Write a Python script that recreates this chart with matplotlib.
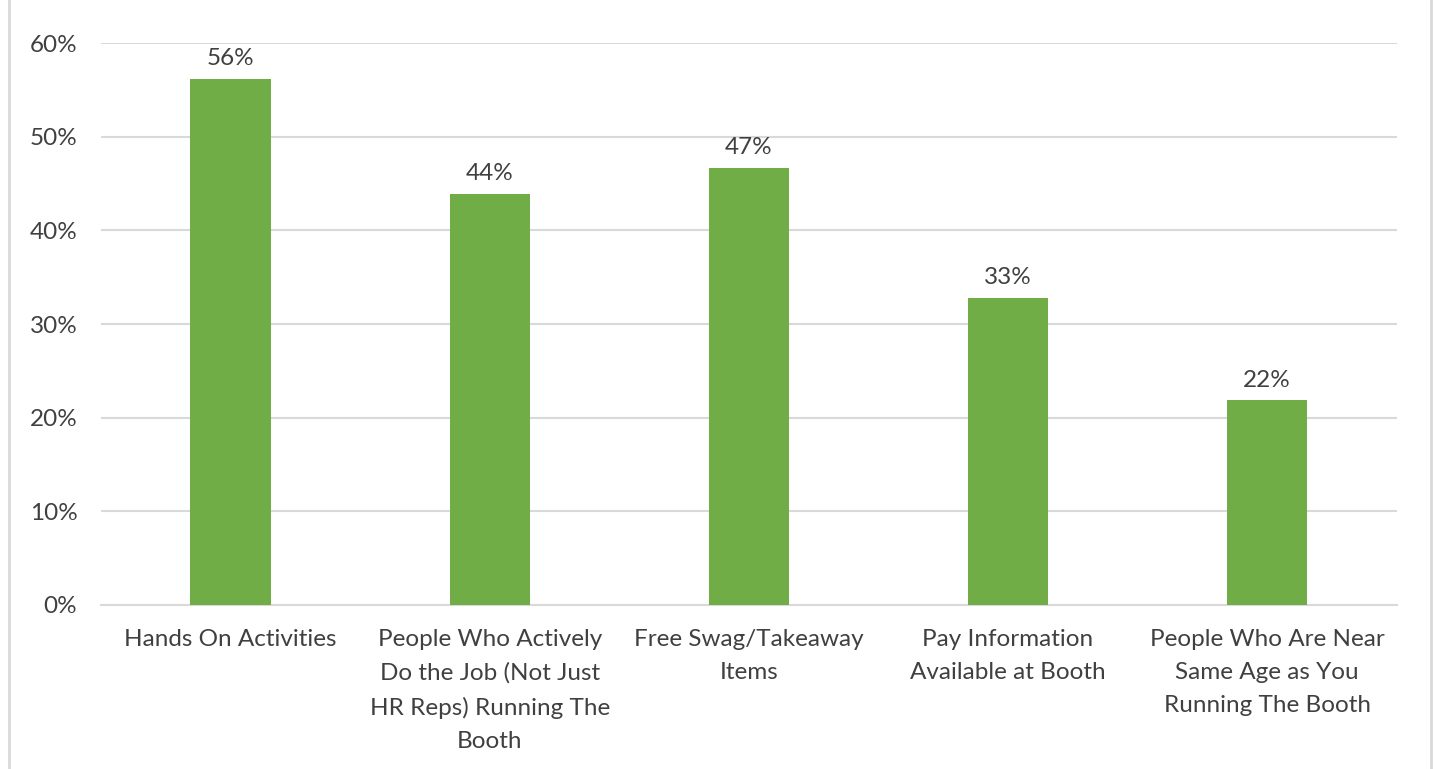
import matplotlib
matplotlib.use("Agg")
import matplotlib.pyplot as plt
from matplotlib.lines import Line2D

categories = [
    "Hands On Activities",
    "People Who Actively\nDo the Job (Not Just\nHR Reps) Running The\nBooth",
    "Free Swag/Takeaway\nItems",
    "Pay Information\nAvailable at Booth",
    "People Who Are Near\nSame Age as You\nRunning The Booth",
]
values = [56.2, 43.9, 46.7, 32.8, 21.9]
yticks = [0, 10, 20, 30, 40, 50, 60]

plt.rcParams['font.family'] = ['Lato', 'DejaVu Sans']
TXT = '#404040'
FS = 17.5

fig = plt.figure(figsize=(14.34, 7.69), dpi=100)
ax = fig.add_axes([0.0704, 0.2133, 0.9036, 0.7307])

x = range(len(categories))
ax.bar(x, values, width=0.31, color='#70AD47', zorder=3)
for i, v in zip(x, values):
    ax.text(i, v + 1.0, f"{v:.0f}%", ha='center', va='bottom', fontsize=FS, color=TXT)

ax.set_xlim(-0.5, len(categories) - 0.5)
ax.set_ylim(0, 60)
ax.set_yticks(yticks)
ax.set_yticklabels([f"{t}%" for t in yticks])
ax.set_xticks(list(x))
ax.set_xticklabels(categories, linespacing=1.72)
ax.yaxis.grid(True, color='#D9D9D9', lw=1.5, zorder=0)
ax.tick_params(axis='both', length=0, labelsize=FS, colors=TXT)
ax.tick_params(axis='x', pad=17)
ax.tick_params(axis='y', pad=17)
for s in ['top', 'right', 'left']:
    ax.spines[s].set_visible(False)
ax.spines['bottom'].set_color('#D9D9D9')
ax.spines['bottom'].set_linewidth(1.5)

fig.add_artist(Line2D([0.0063, 0.0063], [0, 1], color='#D9D9D9', lw=2, transform=fig.transFigure))
fig.add_artist(Line2D([0.9979, 0.9979], [0, 1], color='#D9D9D9', lw=2, transform=fig.transFigure))

fig.savefig("out.png", dpi=100)
